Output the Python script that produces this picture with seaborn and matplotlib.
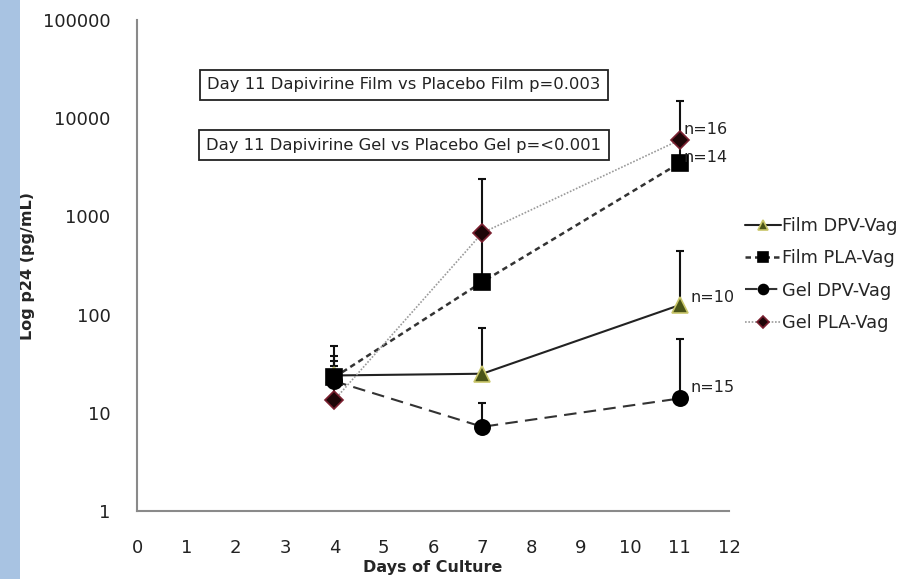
"""
plot.py

p24 levels over days of culture (log scale), film vs gel, drug vs placebo.
"""

import matplotlib

matplotlib.use("Agg")

import matplotlib.pyplot as plt
import seaborn as sns
import pandas as pd
import numpy as np
from matplotlib.patches import Rectangle

# data
days = [4, 7, 11]
series_names = ["Film DPV-Vag", "Film PLA-Vag", "Gel DPV-Vag", "Gel PLA-Vag"]
film_dpv = [24, 25, 125]
film_pla = [23, 215, 3500]
gel_dpv = [21, 7.2, 14]
gel_pla = [13.5, 680, 6000]
# upper end of the (plus-only) error bars
film_dpv_hi = [38, 73, 445]
film_pla_hi = [48, 700, 6000]
gel_dpv_hi = [34, 12.5, 56]
gel_pla_hi = [30, 2400, 15000]
n_labels = ["n=10", "n=14", "n=15", "n=16"]
x_ticks = list(range(0, 13))
y_ticks = [1, 10, 100, 1000, 10000, 100000]
notes = [
    "Day 11 Dapivirine Film vs Placebo Film p=0.003",
    "Day 11 Dapivirine Gel vs Placebo Gel p=<0.001",
]

values = [film_dpv, film_pla, gel_dpv, gel_pla]
highs = [film_dpv_hi, film_pla_hi, gel_dpv_hi, gel_pla_hi]

df = pd.DataFrame(
    {
        "day": days * len(series_names),
        "p24": np.concatenate(values),
        "hi": np.concatenate(highs),
        "group": np.repeat(series_names, len(days)),
    }
)

styles = {
    "Film DPV-Vag": dict(marker="^", ls="-", lw=1.5, color="#222222",
                         mfc="#4a5418", mec="#c9c66a", ms=11),
    "Film PLA-Vag": dict(marker="s", ls=(0, (2.2, 1.6)), lw=1.8, color="#333333",
                         mfc="black", mec="black", ms=11),
    "Gel DPV-Vag": dict(marker="o", ls=(0, (6, 3.5)), lw=1.5, color="#333333",
                        mfc="black", mec="black", ms=11),
    "Gel PLA-Vag": dict(marker="D", ls=(0, (1, 1)), lw=1.2, color="#9a9a9a",
                        mfc="#1e0608", mec="#7a2030", ms=9),
}

sns.set_theme(style="white")
plt.rcParams["font.family"] = ["DejaVu Sans"]

fig = plt.figure(figsize=(9.21, 5.79), dpi=100)
fig.patch.set_facecolor("white")
fig.patches.append(
    Rectangle((0, 0), 20 / 921, 1, transform=fig.transFigure,
              facecolor="#a8c3e2", edgecolor="none", zorder=0)
)

ax = fig.add_axes([137 / 921, 68 / 579, 592 / 921, 491 / 579])

# error bars first, so markers sit on top
for name in series_names:
    sub = df[df["group"] == name]
    ax.errorbar(
        sub["day"], sub["p24"],
        yerr=[np.zeros(len(sub)), sub["hi"] - sub["p24"]],
        fmt="none", ecolor="#111111", elinewidth=1.5, capsize=3, capthick=1.5,
        zorder=2,
    )

handles = []
for name in series_names:
    sub = df[df["group"] == name]
    st = styles[name]
    sns.lineplot(
        data=sub, x="day", y="p24", ax=ax, color=st["color"],
        linestyle=st["ls"], linewidth=st["lw"], marker=st["marker"],
        markersize=st["ms"], markerfacecolor=st["mfc"],
        markeredgecolor=st["mec"], markeredgewidth=1.2, zorder=3,
        legend=False,
    )
    handles.append(ax.lines[-1])

ax.set_yscale("log")
ax.set_xlim(0, 12)
ax.set_ylim(1, 100000)
ax.set_xticks(x_ticks)
ax.set_xticklabels([str(t) for t in x_ticks])
ax.set_yticks(y_ticks)
ax.set_yticklabels([str(t) for t in y_ticks])
ax.yaxis.set_minor_locator(matplotlib.ticker.NullLocator())

for side in ["top", "right"]:
    ax.spines[side].set_visible(False)
for side in ["left", "bottom"]:
    ax.spines[side].set_color("#8a8a8a")
    ax.spines[side].set_linewidth(1.5)
ax.tick_params(axis="both", which="major", direction="out", length=5,
               width=1.3, color="#8a8a8a", labelsize=13, labelcolor="#222222")
ax.tick_params(axis="y", pad=14)
ax.tick_params(axis="x", pad=15)

ax.set_xlabel("Days of Culture", fontsize=11.5, fontweight="bold")
ax.xaxis.set_label_coords(0.5, -0.1)
ax.set_ylabel("Log p24 (pg/mL)", fontsize=11.5, fontweight="bold")
ax.yaxis.set_label_coords(-102 / 592, 0.5)

# sample-size labels next to the day-11 points
n_pos = {"n=16": (11.08, 7600), "n=14": (11.08, 4000),
         "n=10": (11.22, 150), "n=15": (11.22, 18.3)}
for lab in n_labels:
    x, y = n_pos[lab]
    ax.text(x, y, lab, fontsize=11.5, color="#222222", va="center", ha="left")

# p-value boxes
for i, note in enumerate(notes):
    fig.text(
        404 / 921, 1 - (85 + 60 * i) / 579, note, fontsize=11.8,
        ha="center", va="center", color="#222222",
        bbox=dict(boxstyle="square,pad=0.45", facecolor="white",
                  edgecolor="#222222", linewidth=1.3),
    )

fig.legend(
    handles, series_names, loc="upper left",
    bbox_to_anchor=(738 / 921, 1 - 210 / 579), frameon=False,
    fontsize=12.8, handlelength=2.0, handletextpad=0.1, labelspacing=0.8,
    borderaxespad=0, markerscale=0.65,
)

fig.savefig("out.png", dpi=100)
